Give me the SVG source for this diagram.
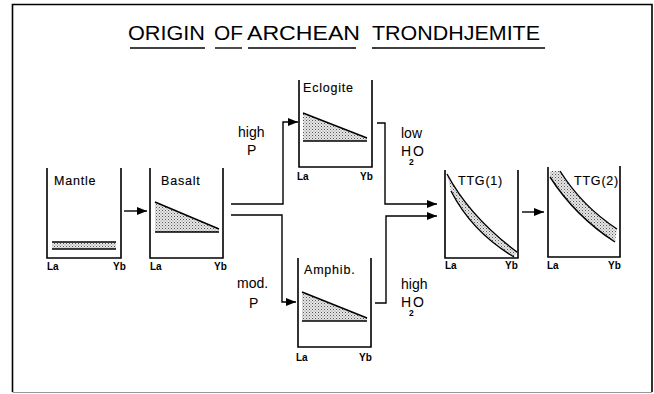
<svg xmlns="http://www.w3.org/2000/svg" width="654" height="394" viewBox="0 0 654 394">
<style>
.frame{fill:none;stroke:#000;stroke-width:1.6}
.box{fill:none;stroke:#000;stroke-width:1.6}
.curve{fill:none;stroke:#000;stroke-width:1.4}
.shade{fill:url(#dots);stroke:none}
.conn{fill:none;stroke:#000;stroke-width:1.4}
.title{font-family:"Liberation Sans",Arial,sans-serif;font-size:21px;fill:#000}
.ul{stroke:#000;stroke-width:1.4}
.name{font-family:"Liberation Sans",Arial,sans-serif;font-size:12.5px;letter-spacing:0.8px;fill:#000;stroke:#000;stroke-width:0.15}
.ax{font-family:"Liberation Sans",Arial,sans-serif;font-size:10px;font-weight:bold;fill:#000}
.lbl{font-family:"Liberation Sans",Arial,sans-serif;font-size:14px;fill:#000}
.sub{font-family:"Liberation Sans",Arial,sans-serif;font-size:8.5px;font-weight:bold;fill:#000}
</style>
<defs>
<pattern id="dots" width="3" height="3" patternUnits="userSpaceOnUse">
<rect width="3" height="3" fill="#e6e6e6"/>
<rect x="0" y="0" width="1" height="1" fill="#555"/>
<rect x="1.5" y="1.5" width="1" height="1" fill="#888"/>
</pattern>
<marker id="ah" markerWidth="10" markerHeight="8" refX="10" refY="4" orient="auto" markerUnits="userSpaceOnUse">
<path d="M0,0 L10,4 L0,8 Z" fill="#000"/>
</marker>
</defs>
<rect x="0" y="0" width="654" height="394" fill="#fff"/>
<path class="frame" d="M12.5,392 L12.5,4.5 L652,4.5 L652,392"/>
<path d="M12.5,392.5 L652,392.5" stroke="#999" stroke-width="1"/>

<g id="title">
<text class="title" x="128" y="40" textLength="77" lengthAdjust="spacingAndGlyphs">ORIGIN</text>
<text class="title" x="214" y="40" textLength="29" lengthAdjust="spacingAndGlyphs">OF</text>
<text class="title" x="247" y="40" textLength="113" lengthAdjust="spacingAndGlyphs">ARCHEAN</text>
<text class="title" x="372" y="40" textLength="168" lengthAdjust="spacingAndGlyphs">TRONDHJEMITE</text>
<line class="ul" x1="130" y1="48" x2="205" y2="48"/>
<line class="ul" x1="215" y1="48" x2="242" y2="48"/>
<line class="ul" x1="248" y1="48" x2="356" y2="48"/>
<line class="ul" x1="372" y1="48" x2="545" y2="48"/>
</g>

<g id="mantle">
<path class="shade" d="M52,242 L116,242 L116,249 L52,249 Z"/>
<line class="curve" x1="52" y1="242" x2="116" y2="242"/>
<line class="curve" x1="52" y1="249" x2="116" y2="249"/>
<path class="box" d="M47,168 L47,258 L121,258 L121,168"/>
<text class="name" x="54" y="185">Mantle</text>
<text class="ax" x="47" y="270">La</text>
<text class="ax" x="113" y="270">Yb</text>
</g>

<g id="basalt">
<path class="shade" d="M155,202 L219,229 L219,232 L155,232 Z"/>
<path class="curve" d="M155,202 L219,229 M155,232 L219,232"/>
<path class="box" d="M150,168 L150,258 L223,258 L223,168"/>
<text class="name" x="161" y="185">Basalt</text>
<text class="ax" x="150" y="270">La</text>
<text class="ax" x="214" y="270">Yb</text>
</g>

<g id="eclogite">
<path class="shade" d="M303,113 L367,138 L367,141 L303,141 Z"/>
<path class="curve" d="M303,113 L367,138 M303,141 L367,141"/>
<path class="box" d="M299,80 L299,167 L372,167 L372,80"/>
<text class="name" x="303" y="92">Eclogite</text>
<text class="ax" x="297" y="180">La</text>
<text class="ax" x="360" y="180">Yb</text>
</g>

<g id="amphib">
<path class="shade" d="M302,292 L367,318 L367,321 L302,321 Z"/>
<path class="curve" d="M302,292 L367,318 M302,321 L367,321"/>
<path class="box" d="M298,258 L298,347 L371,347 L371,258"/>
<text class="name" x="304" y="274">Amphib.</text>
<text class="ax" x="296" y="361">La</text>
<text class="ax" x="359" y="361">Yb</text>
</g>

<g id="ttg1">
<path class="shade" d="M447,174 Q470,217 517,252 L514,257 Q472,232 451,191 Z"/>
<path class="curve" d="M447,174 Q470,217 517,252"/>
<path class="curve" d="M451,191 Q472,232 514,257"/>
<path class="box" d="M445,170 L445,258 L518,258 L518,170"/>
<text class="name" x="458" y="185">TTG(1)</text>
<text class="ax" x="445" y="269">La</text>
<text class="ax" x="505" y="269">Yb</text>
</g>

<g id="ttg2">
<path class="shade" d="M550,171 L560,171 Q582,206 617,229 L615,242 Q575,216 550,177 Z"/>
<path class="curve" d="M560,171 Q582,206 617,229"/>
<path class="curve" d="M550,177 Q575,216 615,242"/>
<path class="box" d="M548,167 L548,257 L620,257 L620,166"/>
<text class="name" x="574" y="185">TTG(2)</text>
<text class="ax" x="547" y="269">La</text>
<text class="ax" x="608" y="269">Yb</text>
</g>

<g id="labels">
<text class="lbl" x="238" y="137">high</text>
<text class="lbl" x="247" y="155">P</text>
<text class="lbl" x="237" y="288">mod.</text>
<text class="lbl" x="249" y="308">P</text>
<text class="lbl" x="401" y="138">low</text>
<text class="lbl" x="401" y="156">H</text><text class="sub" x="409" y="165">2</text><text class="lbl" x="413" y="156">O</text>
<text class="lbl" x="401" y="289">high</text>
<text class="lbl" x="401" y="307">H</text><text class="sub" x="409" y="316">2</text><text class="lbl" x="413" y="307">O</text>
</g>

<g id="connectors">
<line class="conn" x1="124" y1="211" x2="147" y2="211" marker-end="url(#ah)"/>
<path class="conn" d="M231,204 L283,204 L283,122 L298,122" marker-end="url(#ah)"/>
<path class="conn" d="M231,215 L282,215 L282,302 L296,302" marker-end="url(#ah)"/>
<path class="conn" d="M377,123 L385,123 L385,204 L437,204" marker-end="url(#ah)"/>
<path class="conn" d="M375,303 L386,303 L386,216 L437,216" marker-end="url(#ah)"/>
<line class="conn" x1="522" y1="212" x2="544" y2="212" marker-end="url(#ah)"/>
</g>
</svg>
